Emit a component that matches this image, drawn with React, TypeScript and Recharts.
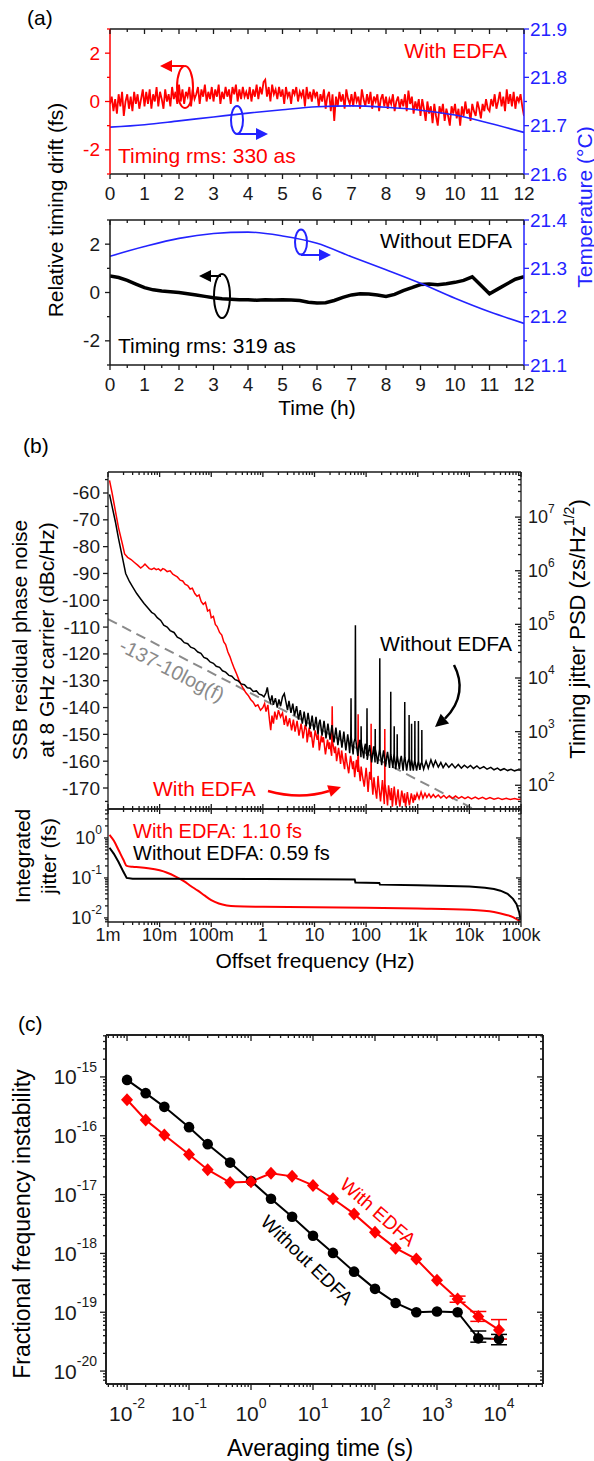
import React from "react";
import { LineChart, Line, XAxis, YAxis, ErrorBar } from "recharts";

const FONT = "'Liberation Sans', Arial, Helvetica, sans-serif";
const RED = "#ff0000";
const BLUE = "#2323ff";
const GRAY = "#8a8a8a";
const INK = "#1a1a1a";

// ---------- (a) relative timing drift over 12 h ----------
// with EDFA, one sample every 3 min (fs)
const driftWith = [
  -0.1, 0.2, -0.4, 0.1, -0.5, 0.3, -0.2, 0.4, -0.6, 0.0, 0.3, -0.3, 0.2, -0.4, 0.4, -0.1, 0.3, -0.3, 0.1, 0.5,
  -0.2, 0.4, -0.1, 0.5, -0.3, 0.3, 0.0, 0.6, -0.2, 0.4, 0.1, -0.3, 0.5, 0.0, 0.3, -0.2, 0.6, 0.1, 0.4, -0.1,
  0.7, 0.0, 0.5, -0.1, 0.4, 0.2, 0.6, -0.2, 0.5, 0.1, 0.3, 0.6, -0.1, 0.5, 0.2, 0.7, 0.0, 0.4, 0.1, 0.6,
  0.0, 0.5, 0.2, 0.7, -0.1, 0.4, 0.1, 0.6, 0.2, 0.5, -0.1, 0.6, 0.3, 0.7, 0.0, 0.5, 0.1, 0.6, 0.2, 0.4,
  0.1, 0.6, 0.0, 0.5, 0.2, 0.7, 0.1, 0.6, 0.3, 0.8, 0.9, 0.2, 0.6, 0.0, 0.7, 0.3, 0.5, 0.1, 0.6, 0.2,
  0.5, -0.1, 0.6, 0.2, 0.4, -0.1, 0.5, 0.3, 0.6, 0.0, 0.4, 0.2, 0.5, -0.2, 0.6, 0.1, 0.4, 0.0, 0.5, 0.2,
  0.4, -0.2, 0.3, 0.0, 0.5, -0.3, 0.2, 0.4, -0.4, 0.3, -0.8, 0.2, -0.2, 0.4, 0.0, 0.3, -0.3, 0.5, 0.1, -0.1,
  0.3, -0.2, 0.4, 0.0, 0.2, -0.3, 0.5, 0.1, -0.2, 0.3, -0.1, 0.4, -0.3, 0.2, 0.0, 0.3, -0.4, 0.1, 0.3, -0.2,
  0.2, -0.3, 0.1, -0.1, 0.3, -0.4, 0.0, 0.2, -0.3, 0.1, -0.2, 0.3, -0.4, 0.45, -0.1, 0.2, -0.5, 0.0, -0.3, 0.1,
  -0.6, 0.1, -0.3, -0.8, 0.0, -0.5, -0.2, -0.9, -0.1, -0.6, -1.0, -0.2, -0.5, -0.1, -0.8, -0.3, -0.6, -1.0, -0.2, -0.5,
  -0.1, -0.7, -0.3, -1.0, -0.2, -0.6, 0.0, -0.5, -0.3, -0.8, -0.1, -0.4, -0.6, 0.0, -0.3, -0.7, -0.1, -0.4, 0.1, -0.3,
  -0.4, 0.1, -0.2, 0.3, -0.3, 0.0, 0.4, -0.2, 0.2, -0.4, 0.5, -0.1, 0.3, -0.2, 0.4, -0.3, 0.2, 0.0, 0.3, -0.2,
  -0.6,
];
// without EDFA, one sample every 15 min (fs)
const driftWithout = [
  0.68, 0.62, 0.5, 0.35, 0.2, 0.11, 0.06, 0.03, 0.0, -0.05, -0.1, -0.16, -0.22, -0.26, -0.28, -0.3,
  -0.3, -0.32, -0.3, -0.31, -0.3, -0.31, -0.33, -0.4, -0.43, -0.42, -0.33, -0.2, -0.1, -0.05, -0.06, -0.1,
  -0.16, -0.08, 0.08, 0.2, 0.33, 0.35, 0.32, 0.36, 0.42, 0.5, 0.65, 0.3, -0.05, 0.15, 0.35, 0.55, 0.65,
];
const tempHours = [0, 1, 2, 3, 4, 5, 6, 7, 8, 9, 10, 11, 12];
const tempWith = [21.697, 21.702, 21.71, 21.718, 21.726, 21.733, 21.739, 21.741, 21.738, 21.732, 21.722, 21.705, 21.686];
const tempWithout = [21.325, 21.345, 21.362, 21.372, 21.375, 21.367, 21.352, 21.324, 21.297, 21.269, 21.238, 21.21, 21.186];

const hourTicks = Array.from({ length: 25 }, (_, i) => i / 2);
const driftTicks = [-3, -2, -1, 0, 1, 2, 3];
const tempWithTicks = [21.6, 21.65, 21.7, 21.75, 21.8, 21.85, 21.9];
const tempWithoutTicks = [21.1, 21.15, 21.2, 21.25, 21.3, 21.35, 21.4];

// ---------- (b) SSB residual phase noise [Hz, dBc/Hz] ----------
const pnRed: [number, number][] = [
  [0.00107, -55.3], [0.0012, -60], [0.0014, -67], [0.0016, -73], [0.0019, -79], [0.0021, -82.7], [0.0024, -84],
  [0.0028, -84.8], [0.0033, -86], [0.0038, -87], [0.0043, -88], [0.0048, -87.2], [0.0052, -86.5], [0.0057, -87.3],
  [0.0063, -88.2], [0.007, -88.5], [0.0078, -88], [0.0086, -88.6], [0.0095, -88.3], [0.0105, -89], [0.0115, -88.2],
  [0.0125, -88.5], [0.014, -89.3], [0.016, -89], [0.018, -90.3], [0.02, -90.8], [0.022, -91.3], [0.025, -92.5],
  [0.028, -92.8], [0.031, -94], [0.035, -94.5], [0.039, -95.8], [0.043, -95.5], [0.048, -97.5], [0.053, -98.5],
  [0.058, -98], [0.064, -100.5], [0.07, -101.5], [0.077, -100.8], [0.085, -104], [0.093, -103.5], [0.1, -106.5],
  [0.11, -106], [0.12, -109], [0.13, -109.8], [0.145, -112], [0.16, -113], [0.175, -115.5], [0.19, -116.5],
  [0.21, -119.3], [0.23, -121], [0.25, -123], [0.28, -125.5], [0.31, -127.5], [0.34, -129.5], [0.38, -131.5],
  [0.42, -133], [0.47, -134.5], [0.52, -135.5], [0.58, -137], [0.65, -138], [0.72, -139.5], [0.8, -139],
  [0.9, -141], [1.0, -140], [1.08, -138.5], [1.15, -141.5], [1.25, -139], [1.35, -145], [1.42, -148.4], [1.5, -143],
  [1.6, -146], [1.7, -141.5], [1.85, -144.5], [2.0, -141], [2.2, -143.5], [2.4, -142], [2.6, -146.5], [2.8, -143],
  [3.0, -147], [3.3, -144], [3.6, -148.5], [3.9, -144.5], [4.2, -149], [4.6, -145], [5.0, -150.5], [5.5, -146],
  [5.8, -149], [6.0, -151.5], [6.6, -146.5], [7.0, -148.5], [7.2, -153], [7.9, -147.5], [8.3, -151], [8.6, -149],
  [9.4, -155], [10.3, -148.5], [11.3, -152], [11.8, -150], [12.4, -156], [13.6, -150.5], [14.2, -153], [14.9, -151],
  [16.3, -157.5], [17.9, -152], [19.0, -155.5], [19.6, -153], [21.5, -158], [22, -139.5], [22.5, -153], [24.5, -157],
  [25.5, -154.5], [26.8, -160], [29.3, -155], [32, -161], [33.5, -156], [35, -158.5], [38.3, -163], [40, -157],
  [42, -160], [46, -164.5], [50, -158], [55, -163], [57, -160], [60, -166], [65, -159.5], [69, -164], [70, -142.5],
  [71, -161], [77, -167.5], [80, -162], [84, -165], [92, -169.5], [100, -162.5], [104, -166], [109, -171.5],
  [117, -164], [124, -167], [125, -146], [126, -165], [135, -172.5], [142, -166], [147, -169], [160, -174],
  [170, -165.5], [175, -168.5], [190, -175], [207, -167], [215, -171], [225, -176], [229, -168], [230, -148],
  [232, -168.5], [250, -173], [260, -176.5], [272, -169], [296, -174.5], [310, -170], [322, -177], [350, -169.5],
  [365, -173], [380, -176.5], [415, -170.5], [430, -174], [450, -177], [490, -171], [535, -175.5], [555, -172],
  [580, -177], [630, -171.5], [660, -174.5], [690, -176.5], [750, -172], [820, -175.5], [860, -172.5], [890, -174.5],
  [970, -172], [1060, -174], [1160, -171.5], [1260, -173.8], [1380, -172], [1500, -173.5], [1650, -172.2],
  [1800, -173.6], [2000, -172.4], [2200, -173.5], [2500, -172.6], [2800, -173.7], [3200, -172.8], [3600, -173.8],
  [4100, -172.9], [4700, -173.9], [5400, -173], [6200, -173.9], [7100, -173.2], [8200, -174], [9400, -173.3],
  [11000, -174.1], [13000, -173.4], [15000, -174.1], [18000, -173.5], [21000, -174.2], [25000, -173.6],
  [30000, -174.2], [36000, -173.7], [43000, -174.3], [52000, -173.8], [62000, -174.3], [75000, -173.9],
  [88000, -174.3], [100000, -174.1],
];
const pnBlack: [number, number][] = [
  [0.00107, -60.5], [0.0012, -65], [0.0014, -71], [0.0016, -77], [0.0019, -84], [0.0022, -90], [0.0026, -93],
  [0.003, -95], [0.0036, -97.5], [0.0043, -99.5], [0.005, -101.2], [0.006, -103], [0.007, -104.5], [0.008, -105.2],
  [0.009, -106.5], [0.0105, -107.5], [0.012, -109.3], [0.014, -110], [0.016, -111.3], [0.019, -112], [0.022, -113.8],
  [0.026, -114.5], [0.03, -115.8], [0.035, -116.2], [0.04, -117.5], [0.047, -118], [0.055, -119.3], [0.063, -119.8],
  [0.072, -121.3], [0.083, -121.8], [0.095, -123], [0.11, -123.5], [0.125, -124.6], [0.145, -125], [0.165, -126.3],
  [0.19, -126.8], [0.22, -128], [0.25, -128.3], [0.29, -129.6], [0.33, -130], [0.38, -131.2], [0.44, -131.5],
  [0.5, -132.6], [0.57, -132.8], [0.65, -134], [0.75, -133.8], [0.85, -135], [0.95, -135.3], [1.05, -136],
  [1.15, -134.5], [1.22, -132.5], [1.3, -136], [1.4, -138], [1.5, -135.5], [1.6, -139], [1.75, -136.5], [1.9, -140],
  [2.05, -137], [2.2, -139.5], [2.4, -136], [2.6, -134.8], [2.8, -138], [3.0, -141], [3.2, -137.5], [3.5, -142],
  [3.8, -138.5], [4.1, -143], [4.5, -139.5], [4.9, -144.5], [5.3, -141], [5.8, -146], [6.1, -143.5], [6.3, -141.5],
  [6.9, -147], [7.5, -142], [7.9, -145], [8.2, -148], [9, -143], [9.4, -146], [9.8, -148.5], [10.7, -143.5],
  [11.7, -150], [12.2, -146], [12.8, -144.5], [14, -150.5], [15.3, -145], [16, -148], [16.7, -151.5], [18.2, -146],
  [20, -152], [21.8, -146.5], [22.8, -150], [23.8, -153], [26, -147.5], [28.4, -154], [31, -148.5], [32.5, -152],
  [34, -155], [37, -149], [40.5, -156], [44, -150], [46, -153], [48, -157], [50.5, -150.5], [51, -136.5],
  [51.5, -151], [56, -157.5], [58, -153], [61, -151.5], [62, -109.3], [63, -152], [69, -158], [72, -154.5],
  [75, -152], [79.5, -158.5], [80, -147], [80.5, -153], [90, -159], [93, -155], [97, -153.5], [103, -158],
  [104, -140.3], [105, -159.5], [117, -154], [122, -157], [128, -160.5], [140, -154.5], [149, -160.5], [150, -148],
  [151, -155.5], [160, -158], [167, -161], [182, -155.5], [184, -121.6], [186, -156], [200, -161.5], [210, -158],
  [218, -156], [238, -162], [250, -158.5], [260, -156.5], [284, -162.5], [298, -157], [300, -134.1], [302, -157.5],
  [330, -162.5], [340, -159], [348, -157], [350, -147], [352, -158], [375, -163], [390, -160], [398, -157.5],
  [400, -150], [402, -158], [440, -163], [460, -159.5], [480, -158], [520, -163.5], [540, -160], [555, -158.5],
  [560, -137.9], [565, -158.5], [610, -163.5], [640, -160.5], [676, -159], [680, -142.8], [684, -159],
  [720, -163.5], [757, -159], [760, -146], [763, -159.5], [820, -163.5], [850, -161], [875, -159.5], [880, -145],
  [885, -160], [950, -163.5], [1000, -161], [1025, -160], [1030, -145], [1035, -160], [1100, -163.2],
  [1150, -161], [1195, -160.5], [1200, -148.4], [1205, -160.5], [1300, -163], [1450, -160], [1600, -162.6],
  [1800, -159.5], [2000, -162], [2200, -159.8], [2500, -162.2], [2800, -160.5], [3100, -162.4], [3500, -160.8],
  [4000, -162.3], [4600, -161], [5300, -162.5], [6100, -161.2], [7000, -162.6], [8000, -161.5], [9200, -162.5],
  [10500, -161.6], [12000, -162.7], [14000, -161.8], [16000, -162.8], [19000, -162], [22000, -163], [26000, -162.3],
  [30000, -163.2], [35000, -162.6], [40000, -163.4], [47000, -162.8], [55000, -163.5], [64000, -163],
  [75000, -163.6], [87000, -163.2], [100000, -163.4],
];
// -137 - 10 log(f) reference line, end points
const slopeLine: [number, number][] = [[0.001, -107], [100000, -187]];

// integrated jitter [Hz, fs]
const jitRed: [number, number][] = [
  [0.00107, 1.2], [0.0013, 0.85], [0.0016, 0.5], [0.002, 0.28], [0.0023, 0.2], [0.003, 0.19], [0.004, 0.185],
  [0.006, 0.175], [0.01, 0.155], [0.014, 0.135], [0.02, 0.11], [0.03, 0.082], [0.04, 0.063], [0.055, 0.048],
  [0.075, 0.036], [0.1, 0.028], [0.14, 0.023], [0.2, 0.0205], [0.3, 0.0195], [1, 0.019], [10, 0.0185],
  [100, 0.018], [1000, 0.0172], [10000, 0.016], [30000, 0.014], [50000, 0.012], [70000, 0.0105], [85000, 0.009],
  [95000, 0.0082],
];
const jitBlack: [number, number][] = [
  [0.00107, 0.57], [0.0013, 0.4], [0.0016, 0.25], [0.002, 0.14], [0.0023, 0.1], [0.003, 0.095], [0.01, 0.095],
  [1, 0.094], [10, 0.093], [60, 0.092], [62, 0.077], [100, 0.076], [180, 0.075], [185, 0.068], [1000, 0.066],
  [10000, 0.061], [20000, 0.057], [30000, 0.053], [40000, 0.048], [55000, 0.04], [70000, 0.03], [82000, 0.022],
  [92000, 0.014], [98000, 0.009],
];
const freqLabels = ["1m", "10m", "100m", "1", "10", "100", "1k", "10k", "100k"];

// ---------- (c) fractional frequency instability ----------
const tau = [0.01, 0.02, 0.04, 0.1, 0.2, 0.46, 1, 2.1, 4.6, 10, 21, 46, 100, 215, 464, 1000, 2150, 4640, 10000];
const adevWithout = [8.9e-16, 5.3e-16, 3.1e-16, 1.4e-16, 7.2e-17, 3.5e-17, 1.7e-17, 8.5e-18, 4.2e-18, 2.0e-18, 1.02e-18, 4.9e-19, 2.5e-19, 1.44e-19, 1.0e-19, 1.03e-19, 1.0e-19, 3.6e-20, 3.5e-20];
const adevWith = [4.1e-16, 1.86e-16, 1.03e-16, 4.8e-17, 2.65e-17, 1.6e-17, 1.66e-17, 2.3e-17, 2.04e-17, 1.43e-17, 8.5e-18, 4.7e-18, 2.3e-18, 1.23e-18, 8.0e-19, 3.5e-19, 1.68e-19, 8.5e-20, 5.0e-20];
const errWithout: ([number, number] | undefined)[] = [...Array(17).fill(undefined), [0.5e-20, 1.2e-20], [0.7e-20, 0.7e-20]];
const errWith: ([number, number] | undefined)[] = [...Array(16).fill(undefined), [0.2e-19, 0.2e-19], [1.5e-20, 1.8e-20], [1.5e-20, 2.5e-20]];

// ---------- helpers ----------
const isDecade = (v: number) => Math.abs(Math.log10(v) - Math.round(Math.log10(v))) < 1e-6;
const isTenth = (v: number) => Math.abs(v * 10 - Math.round(v * 10)) < 1e-6;

function logTicks(lo: number, hi: number) {
  const out: number[] = [];
  for (let e = Math.floor(Math.log10(lo)); e <= Math.ceil(Math.log10(hi)); e++) {
    for (let m = 1; m < 10; m++) {
      const v = m * Math.pow(10, e);
      if (v >= lo * 0.9999 && v <= hi * 1.0001) out.push(v);
    }
  }
  return out;
}

const sup10 = (v: number, size: number, rise: number) => (
  <>
    10<tspan dy={-rise} fontSize={size}>{String(Math.round(Math.log10(v)))}</tspan>
  </>
);

type TickOpt = {
  side: "left" | "right" | "top" | "bottom";
  inward?: boolean;
  major?: (v: number) => boolean;
  len?: number;
  minor?: number;
  color?: string;
  label?: (v: number) => React.ReactNode;
  gap?: number;
  size?: number;
};

// draws its own tick line (inward or outward) and label; axis uses tickSize 0
function tickFn(o: TickOpt) {
  return (p: any) => {
    const v = p.payload.value;
    const big = o.major ? o.major(v) : true;
    const L = big ? o.len ?? 5 : o.minor ?? 3;
    const s = o.inward ? -1 : 1;
    const c = o.color ?? INK;
    const horiz = o.side === "top" || o.side === "bottom";
    const out = o.side === "left" || o.side === "top" ? -1 : 1;
    const x2 = horiz ? p.x : p.x + out * s * L;
    const y2 = horiz ? p.y + out * s * L : p.y;
    let text = null;
    if (o.label && big) {
      const g = o.gap ?? 8;
      text = (
        <text
          x={horiz ? p.x : p.x + out * g}
          y={horiz ? p.y + out * g : p.y}
          textAnchor={horiz ? "middle" : o.side === "left" ? "end" : "start"}
          dominantBaseline="central"
          fill={c}
          fontSize={o.size ?? 19}
        >
          {o.label(v)}
        </text>
      );
    }
    return (
      <g>
        <line x1={p.x} y1={p.y} x2={x2} y2={y2} stroke={c} strokeWidth={1.3} />
        {text}
      </g>
    );
  };
}

const axisBase = { tickSize: 0, tickMargin: 0, tickLine: false, interval: 0 as const, allowDataOverflow: true };

// ---------- (a) ----------
function DriftChart(props: {
  drift: number[];
  stepH: number;
  temp: number[];
  tempDomain: [number, number];
  tempTicks: number[];
  leftColor: string;
  driftColor: string;
  driftWidth: number;
  margin: { top: number; right: number; bottom: number; left: number };
}) {
  const p = props;
  const driftData = p.drift.map((v, i) => ({ t: i * p.stepH, v }));
  const tempData = p.temp.map((v, i) => ({ t: tempHours[i], v }));
  return (
    <LineChart width={594} height={215} margin={p.margin}>
      <XAxis xAxisId="b" type="number" dataKey="t" domain={[0, 12]} ticks={hourTicks} height={41} {...axisBase}
        axisLine={{ stroke: INK, strokeWidth: 1.5 }}
        tick={tickFn({ side: "bottom", major: Number.isInteger, label: (v) => String(v), gap: 19 })} />
      <XAxis xAxisId="t" orientation="top" mirror type="number" dataKey="t" domain={[0, 12]} ticks={hourTicks} height={1} {...axisBase}
        axisLine={{ stroke: INK, strokeWidth: 1.5 }}
        tick={tickFn({ side: "top", inward: true, major: Number.isInteger })} />
      <YAxis yAxisId="l" type="number" domain={[-3, 3]} ticks={driftTicks} width={40} {...axisBase}
        axisLine={{ stroke: p.leftColor, strokeWidth: 1.5 }}
        tick={tickFn({ side: "left", major: (v) => v % 2 === 0, color: p.leftColor, label: (v) => String(v), gap: 10 })} />
      <YAxis yAxisId="r" orientation="right" type="number" domain={p.tempDomain} ticks={p.tempTicks} width={50} {...axisBase}
        axisLine={{ stroke: BLUE, strokeWidth: 1.5 }}
        tick={tickFn({ side: "right", major: isTenth, color: BLUE, label: (v) => v.toFixed(1), gap: 6 })} />
      <Line xAxisId="b" yAxisId="l" data={driftData} dataKey="v" type="linear" stroke={p.driftColor}
        strokeWidth={p.driftWidth} dot={false} activeDot={false} isAnimationActive={false} />
      <Line xAxisId="b" yAxisId="r" data={tempData} dataKey="v" type="monotone" stroke={BLUE}
        strokeWidth={1.6} dot={false} activeDot={false} isAnimationActive={false} />
    </LineChart>
  );
}

// ---------- (b) ----------
const F_DOMAIN: [number, number] = [0.001, 100000];
const fTicks = logTicks(0.001, 100000);
const PN_DOMAIN: [number, number] = [-177.83, -52.17];
const pnTicks = Array.from({ length: 25 }, (_, i) => -175 + i * 5);
const PSD_DOMAIN: [number, number] = [36.1, 6.93e7];
const psdTicks = logTicks(36.1, 6.93e7);
const JIT_DOMAIN: [number, number] = [0.0079, 5.3];
const jitTicks = logTicks(0.0079, 5.3);

const toObj = (arr: [number, number][]) => arr.map(([f, v]) => ({ f, v }));

function PhaseNoiseChart() {
  return (
    <LineChart width={594} height={380} margin={{ top: 32, right: 23, bottom: 11, left: 68 }}>
      <XAxis xAxisId="b" mirror type="number" dataKey="f" scale="log" domain={F_DOMAIN} ticks={fTicks} height={1} {...axisBase}
        axisLine={{ stroke: INK, strokeWidth: 1.3 }}
        tick={tickFn({ side: "bottom", inward: true, major: isDecade })} />
      <XAxis xAxisId="t" orientation="top" mirror type="number" dataKey="f" scale="log" domain={F_DOMAIN} ticks={fTicks} height={1} {...axisBase}
        axisLine={{ stroke: INK, strokeWidth: 1.3 }}
        tick={tickFn({ side: "top", inward: true, major: isDecade })} />
      <YAxis yAxisId="l" type="number" domain={PN_DOMAIN} ticks={pnTicks} width={40} {...axisBase}
        axisLine={{ stroke: INK, strokeWidth: 1.3 }}
        tick={tickFn({ side: "left", major: (v) => v % 10 === 0, label: (v) => String(v), gap: 8 })} />
      <YAxis yAxisId="r" orientation="right" type="number" scale="log" domain={PSD_DOMAIN} ticks={psdTicks} width={50} {...axisBase}
        axisLine={{ stroke: INK, strokeWidth: 1.3 }}
        tick={tickFn({ side: "right", inward: true, major: isDecade, len: 6, label: (v) => sup10(v, 12, 8), gap: 7, size: 18 })} />
      <Line xAxisId="b" yAxisId="l" data={toObj(slopeLine)} dataKey="v" type="linear" stroke={GRAY}
        strokeWidth={2} strokeDasharray="10 6" dot={false} activeDot={false} isAnimationActive={false} />
      <Line xAxisId="b" yAxisId="l" data={toObj(pnRed)} dataKey="v" type="linear" stroke={RED}
        strokeWidth={1.5} dot={false} activeDot={false} isAnimationActive={false} />
      <Line xAxisId="b" yAxisId="l" data={toObj(pnBlack)} dataKey="v" type="linear" stroke="#000"
        strokeWidth={1.5} dot={false} activeDot={false} isAnimationActive={false} />
    </LineChart>
  );
}

function JitterChart() {
  return (
    <LineChart width={594} height={160} margin={{ top: 9, right: 73, bottom: 8, left: 68 }}>
      <XAxis xAxisId="b" type="number" dataKey="f" scale="log" domain={F_DOMAIN} ticks={fTicks} height={30} {...axisBase}
        axisLine={{ stroke: INK, strokeWidth: 1.3 }}
        tick={tickFn({ side: "bottom", major: isDecade, label: (v) => freqLabels[Math.round(Math.log10(v)) + 3], gap: 13, size: 18 })} />
      <XAxis xAxisId="t" orientation="top" mirror type="number" dataKey="f" scale="log" domain={F_DOMAIN} ticks={fTicks} height={1} {...axisBase}
        axisLine={{ stroke: INK, strokeWidth: 1.3 }}
        tick={tickFn({ side: "top", inward: true, major: isDecade })} />
      <YAxis yAxisId="l" type="number" scale="log" domain={JIT_DOMAIN} ticks={jitTicks} width={40} {...axisBase}
        axisLine={{ stroke: INK, strokeWidth: 1.3 }}
        tick={tickFn({ side: "left", major: isDecade, len: 4, label: (v) => sup10(v, 12, 8), gap: 6, size: 18 })} />
      <YAxis yAxisId="r" orientation="right" mirror type="number" scale="log" domain={JIT_DOMAIN} ticks={jitTicks} width={1} {...axisBase}
        axisLine={{ stroke: INK, strokeWidth: 1.3 }}
        tick={tickFn({ side: "right", inward: true, major: isDecade })} />
      <Line xAxisId="b" yAxisId="l" data={toObj(jitRed)} dataKey="v" type="monotone" stroke={RED}
        strokeWidth={2} dot={false} activeDot={false} isAnimationActive={false} />
      <Line xAxisId="b" yAxisId="l" data={toObj(jitBlack)} dataKey="v" type="linear" stroke="#000"
        strokeWidth={2} dot={false} activeDot={false} isAnimationActive={false} />
    </LineChart>
  );
}

// ---------- (c) ----------
const TAU_DOMAIN: [number, number] = [0.00458, 51300];
const tauTicks = logTicks(0.00458, 51300);
const ADEV_DOMAIN: [number, number] = [6.03e-21, 5.16e-15];
const adevTicks = logTicks(6.03e-21, 5.16e-15);

const circleDot = (p: any) => <circle key={`c${p.index}`} cx={p.cx} cy={p.cy} r={5.3} fill="#000" />;
const diamondDot = (p: any) => (
  <path key={`d${p.index}`} d={`M${p.cx},${p.cy - 6.5}L${p.cx + 6},${p.cy}L${p.cx},${p.cy + 6.5}L${p.cx - 6},${p.cy}Z`} fill={RED} />
);

function AllanChart() {
  const black = tau.map((t, i) => ({ tau: t, v: adevWithout[i], e: errWithout[i] }));
  const red = tau.map((t, i) => ({ tau: t, v: adevWith[i], e: errWith[i] }));
  const ax = { stroke: "#222", strokeWidth: 2 };
  return (
    <LineChart width={594} height={461} margin={{ top: 35, right: 51, bottom: 42, left: 56 }}>
      <XAxis xAxisId="b" type="number" dataKey="tau" scale="log" domain={TAU_DOMAIN} ticks={tauTicks} height={35} {...axisBase}
        axisLine={ax}
        tick={tickFn({ side: "bottom", major: isDecade, len: 6, label: (v) => sup10(v, 14, 10), gap: 29, size: 21 })} />
      <XAxis xAxisId="t" orientation="top" mirror type="number" dataKey="tau" scale="log" domain={TAU_DOMAIN} ticks={tauTicks} height={1} {...axisBase}
        axisLine={ax}
        tick={tickFn({ side: "top", inward: true, major: isDecade, len: 6 })} />
      <YAxis yAxisId="l" type="number" scale="log" domain={ADEV_DOMAIN} ticks={adevTicks} width={50} {...axisBase}
        axisLine={ax}
        tick={tickFn({ side: "left", major: isDecade, len: 6, label: (v) => sup10(v, 14, 10), gap: 9, size: 21 })} />
      <YAxis yAxisId="r" orientation="right" mirror type="number" scale="log" domain={ADEV_DOMAIN} ticks={adevTicks} width={1} {...axisBase}
        axisLine={ax}
        tick={tickFn({ side: "right", inward: true, major: isDecade, len: 6 })} />
      <Line xAxisId="b" yAxisId="l" data={black} dataKey="v" type="linear" stroke="#000" strokeWidth={2}
        dot={circleDot} activeDot={false} isAnimationActive={false}>
        <ErrorBar dataKey="e" width={8} stroke="#000" strokeWidth={1.5} direction="y" />
      </Line>
      <Line xAxisId="b" yAxisId="l" data={red} dataKey="v" type="linear" stroke={RED} strokeWidth={2}
        dot={diamondDot} activeDot={false} isAnimationActive={false}>
        <ErrorBar dataKey="e" width={8} stroke={RED} strokeWidth={1.5} direction="y" />
      </Line>
    </LineChart>
  );
}

// ---------- text, ellipses and arrows ----------
function T(props: { x: number; y: number; children: React.ReactNode; size?: number; fill?: string; anchor?: string; rot?: number }) {
  const { x, y, size = 21, fill = "#000", anchor = "start", rot = 0 } = props;
  return (
    <text x={x} y={y} fontSize={size} fill={fill} textAnchor={anchor as any} dominantBaseline="central"
      transform={rot ? `rotate(${rot} ${x} ${y})` : undefined}>
      {props.children}
    </text>
  );
}

function Overlay() {
  return (
    <svg width={594} height={1461} style={{ position: "absolute", left: 0, top: 0, pointerEvents: "none" }}>
      {/* (a) */}
      <T x={27} y={17}>(a)</T>
      <T x={507} y={50} anchor="end" fill={RED}>With EDFA</T>
      <T x={118} y={155} fill={RED}>Timing rms: 330 as</T>
      <T x={512} y={240} anchor="end">Without EDFA</T>
      <T x={118} y={345}>Timing rms: 319 as</T>
      <T x={55} y={210} anchor="middle" rot={-90}>Relative timing drift (fs)</T>
      <T x={584} y={207} anchor="middle" rot={-90} fill={BLUE}>Temperature (°C)</T>
      <T x={317} y={407} anchor="middle">Time (h)</T>

      <ellipse cx={185} cy={87} rx={8} ry={21} fill="none" stroke={RED} strokeWidth={2} />
      <line x1={184} y1={66} x2={170} y2={66} stroke={RED} strokeWidth={2} />
      <polygon points="160,66 172,60 172,72" fill={RED} />
      <ellipse cx={237} cy={120} rx={6} ry={14} fill="none" stroke={BLUE} strokeWidth={2} />
      <line x1={237} y1={134} x2={257} y2={134} stroke={BLUE} strokeWidth={2} />
      <polygon points="268,134 256,128 256,140" fill={BLUE} />

      <ellipse cx={222} cy={296} rx={8} ry={22} fill="none" stroke="#000" strokeWidth={2} />
      <line x1={221} y1={276} x2={211} y2={276} stroke="#000" strokeWidth={2} />
      <polygon points="199,276 211,270 211,282" fill="#000" />
      <ellipse cx={301} cy={242} rx={6} ry={12.5} fill="none" stroke={BLUE} strokeWidth={2} />
      <line x1={301} y1={255} x2={319} y2={255} stroke={BLUE} strokeWidth={2} />
      <polygon points="331,255 319,249 319,261" fill={BLUE} />

      {/* (b) */}
      <T x={23} y={445}>(b)</T>
      <T x={19} y={640} anchor="middle" rot={-90}>SSB residual phase noise</T>
      <T x={46} y={640} anchor="middle" rot={-90}>at 8 GHz carrier (dBc/Hz)</T>
      <text x={577} y={629} fontSize={22} textAnchor="middle" dominantBaseline="central" transform="rotate(-90 577 629)">
        Timing jitter PSD (zs/Hz<tspan dy={-8} fontSize={14}>1/2</tspan><tspan dy={8}>)</tspan>
      </text>
      <T x={22} y={856} anchor="middle" rot={-90}>Integrated</T>
      <T x={48} y={856} anchor="middle" rot={-90}>jitter (fs)</T>
      <T x={315} y={960} anchor="middle">Offset frequency (Hz)</T>
      <T x={133} y={831} fill={RED} size={20}>With EDFA: 1.10 fs</T>
      <T x={133} y={853} size={20}>Without EDFA: 0.59 fs</T>
      <T x={512} y={643} anchor="end">Without EDFA</T>
      <T x={153} y={788} fill={RED}>With EDFA</T>
      <T x={172} y={670} anchor="middle" rot={27} fill={GRAY} size={20}>-137-10log(f)</T>
      <path d="M 454 665 C 463 682, 462 702, 445 718.6" fill="none" stroke="#000" strokeWidth={2.5} />
      <polygon points="435,727 449.1,723.5 440.7,713.7" fill="#000" />
      <path d="M 268 791 Q 300 800 329 791" fill="none" stroke={RED} strokeWidth={2.5} />
      <polygon points="341,787 330.9,796.7 327.1,785.3" fill={RED} />

      {/* (c) */}
      <T x={18} y={1023}>(c)</T>
      <T x={22} y={1224} anchor="middle" rot={-90} size={23}>Fractional frequency instability</T>
      <T x={320} y={1448} anchor="middle" size={23}>Averaging time (s)</T>
      <T x={378} y={1212} anchor="middle" rot={41} fill={RED} size={19}>With EDFA</T>
      <T x={307} y={1260} anchor="middle" rot={44} size={19}>Without EDFA</T>
    </svg>
  );
}

export default function App() {
  return (
    <div style={{ position: "absolute", left: 0, top: 0, width: 594, height: 1461, background: "#fff", fontFamily: FONT, overflow: "hidden" }}>
      <div style={{ position: "absolute", left: 0, top: 0 }}>
        <DriftChart drift={driftWith} stepH={0.05} temp={tempWith} tempDomain={[21.6, 21.9]} tempTicks={tempWithTicks}
          leftColor={RED} driftColor={RED} driftWidth={1.8} margin={{ top: 29, right: 20, bottom: 0, left: 70 }} />
      </div>
      <div style={{ position: "absolute", left: 0, top: 200 }}>
        <DriftChart drift={driftWithout} stepH={0.25} temp={tempWithout} tempDomain={[21.1, 21.4]} tempTicks={tempWithoutTicks}
          leftColor={INK} driftColor="#000" driftWidth={3.5} margin={{ top: 20, right: 20, bottom: 9, left: 70 }} />
      </div>
      <div style={{ position: "absolute", left: 0, top: 440 }}>
        <PhaseNoiseChart />
      </div>
      <div style={{ position: "absolute", left: 0, top: 800 }}>
        <JitterChart />
      </div>
      <div style={{ position: "absolute", left: 0, top: 1000 }}>
        <AllanChart />
      </div>
      <Overlay />
    </div>
  );
}
